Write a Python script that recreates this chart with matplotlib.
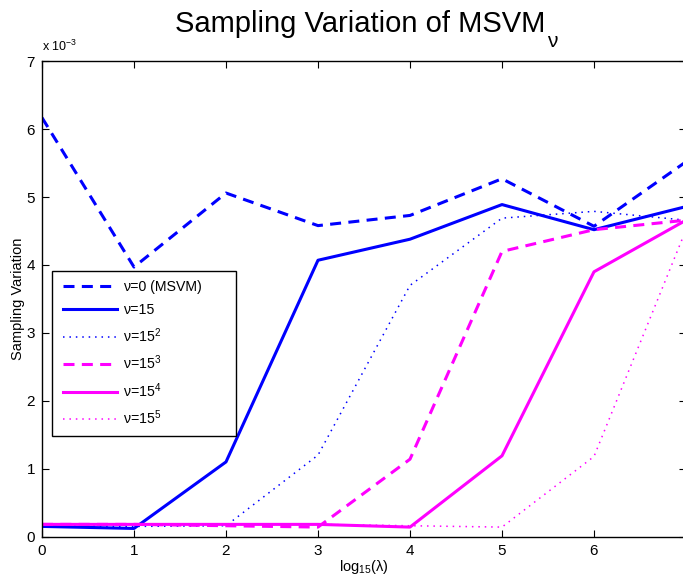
import matplotlib
matplotlib.use("Agg")
import matplotlib.pyplot as plt
from matplotlib.patches import Rectangle

plt.rcParams['font.family'] = ['Liberation Sans', 'DejaVu Sans']
plt.rcParams['mathtext.fontset'] = 'custom'
plt.rcParams['mathtext.rm'] = 'Liberation Sans'
plt.rcParams['mathtext.it'] = 'Liberation Sans'
plt.rcParams['mathtext.default'] = 'rm'

x = [0, 1, 2, 3, 4, 5, 6, 7]
# values in units of 1e-3
nu0 = [6.17, 3.97, 5.06, 4.58, 4.73, 5.27, 4.57, 5.52]
nu1 = [0.15, 0.12, 1.10, 4.07, 4.38, 4.89, 4.52, 4.86]
nu2 = [0.16, 0.15, 0.16, 1.20, 3.70, 4.69, 4.79, 4.66]
nu3 = [0.18, 0.18, 0.16, 0.14, 1.14, 4.20, 4.52, 4.66]
nu4 = [0.18, 0.18, 0.18, 0.18, 0.14, 1.19, 3.90, 4.66]
nu5 = [0.18, 0.18, 0.18, 0.18, 0.16, 0.14, 1.18, 4.52]

labels = ['ν=0 (MSVM)', 'ν=15', 'ν=15$^{2}$', 'ν=15$^{3}$', 'ν=15$^{4}$', 'ν=15$^{5}$']
xticks = [0, 1, 2, 3, 4, 5, 6, 7]
yticks = [0, 1, 2, 3, 4, 5, 6, 7]

W, H = 683, 580
fig = plt.figure(figsize=(W / 100, H / 100), dpi=100)
left, right, top, bottom = 42, 686, 61.3, 536.6
ax = fig.add_axes([left / W, 1 - bottom / H, (right - left) / W, (bottom - top) / H])

blue = (0, 0, 1)
mag = (1, 0, 1)
ax.plot(x, nu0, color=blue, lw=2.2, dashes=[3.6, 2.4], label=labels[0])
ax.plot(x, nu1, color=blue, lw=2.2, linestyle='-', label=labels[1])
ax.plot(x, nu2, color=blue, lw=1.1, dashes=[1, 3.2], label=labels[2])
ax.plot(x, nu3, color=mag, lw=2.2, dashes=[3.6, 2.4], label=labels[3])
ax.plot(x, nu4, color=mag, lw=2.2, linestyle='-', label=labels[4])
ax.plot(x, nu5, color=mag, lw=1.1, dashes=[1, 3.2], label=labels[5])

ax.set_xlim(0, 7)
ax.set_ylim(0, 7)
ax.set_xticks(xticks)
ax.set_yticks(yticks)
ax.tick_params(direction='in', top=True, right=True, labelsize=11, length=5, width=0.8, pad=5)
for s in ax.spines.values():
    s.set_linewidth(1.0)

ax.set_xlabel('log$_{15}$(λ)', fontsize=10.5, labelpad=0)
ax.set_ylabel('Sampling Variation', fontsize=10.5, labelpad=1)
t = fig.text(175 / W, 1 - 32 / H, 'Sampling Variation of MSVM', fontsize=21, ha='left', va='baseline')
fig.canvas.draw()
bb = t.get_window_extent()
fig.text(bb.x1 / W + 2 / W, 1 - 47 / H, 'ν', fontsize=15, ha='left', va='baseline')
fig.text(42 / W, 1 - 51 / H, 'x 10$^{-3}$', fontsize=9, ha='left', va='baseline')

# legend box (MATLAB-style, wider than contents)
lx0, lx1, ly0, ly1 = 52, 236, 270.7, 436
ax_w, ax_h = right - left, bottom - top
ax.add_patch(Rectangle(((lx0 - left) / ax_w, (bottom - ly1) / ax_h), (lx1 - lx0) / ax_w, (ly1 - ly0) / ax_h,
                       transform=ax.transAxes, facecolor='white', edgecolor='black', lw=1.0, zorder=5))
leg = ax.legend(loc='upper left', bbox_to_anchor=((lx0 + 5 - left) / ax_w, (bottom - ly0 - 4) / ax_h),
                fontsize=10.2, frameon=False,
                handlelength=3.8, handletextpad=0.45, labelspacing=0.63, borderpad=0.4,
                borderaxespad=0)
leg.set_zorder(6)

fig.savefig('out.png', dpi=100)
